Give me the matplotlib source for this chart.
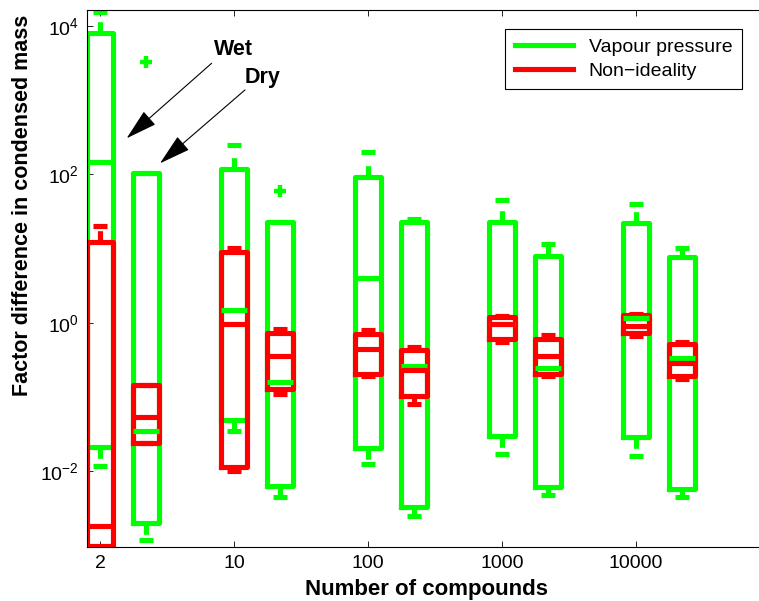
import numpy as np
import matplotlib
matplotlib.use('Agg')
import matplotlib.pyplot as plt

plt.rcParams['font.family'] = ['Liberation Sans', 'DejaVu Sans']
plt.rcParams['mathtext.fontset'] = 'custom'
plt.rcParams['mathtext.rm'] = 'Liberation Sans'
plt.rcParams['mathtext.it'] = 'Liberation Sans'

# categories on the x axis
groups = ['2', '10', '100', '1000', '10000']

# log10 of the box statistics
# vapour pressure, wet
vp_wet_lo = [-1.92, -1.46, -1.90, -1.76, -1.79]
vp_wet_q1 = [-1.67, -1.31, -1.69, -1.52, -1.54]
vp_wet_med = [2.17, 0.18, 0.61, -0.01, 0.06]
vp_wet_q3 = [3.90, 2.07, 1.96, 1.36, 1.34]
vp_wet_hi = [4.19, 2.40, 2.30, 1.66, 1.60]
vp_wet_fliers = [[], [], [], [], []]

# vapour pressure, dry
vp_dry_lo = [-2.92, -2.35, -2.60, -2.32, -2.35]
vp_dry_q1 = [-2.70, -2.19, -2.48, -2.21, -2.23]
vp_dry_med = [-1.46, -0.79, -0.58, -0.61, -0.47]
vp_dry_q3 = [2.02, 1.36, 1.36, 0.90, 0.89]
vp_dry_hi = [2.02, 1.36, 1.40, 1.06, 1.01]
vp_dry_fliers = [[3.52], [1.78], [], [], []]

# non-ideality, wet
ni_wet_lo = [-3.30, -2.00, -0.72, -0.25, -0.18]
ni_wet_q1 = [-3.00, -1.94, -0.69, -0.21, -0.13]
ni_wet_med = [-2.74, -0.01, -0.35, -0.01, -0.04]
ni_wet_q3 = [1.09, 0.95, -0.15, 0.085, 0.11]
ni_wet_hi = [1.30, 1.01, -0.10, 0.10, 0.12]
ni_wet_fliers = [[], [], [], [], []]

# non-ideality, dry
ni_dry_lo = [-1.62, -0.96, -1.095, -0.72, -0.755]
ni_dry_q1 = [-1.62, -0.89, -0.99, -0.69, -0.72]
ni_dry_med = [-1.26, -0.45, -0.63, -0.44, -0.535]
ni_dry_q3 = [-0.835, -0.14, -0.37, -0.21, -0.28]
ni_dry_hi = [-0.835, -0.085, -0.33, -0.16, -0.25]
ni_dry_fliers = [[], [], [], [], []]

GREEN = (0, 1, 0)
RED = (1, 0, 0)
LW = 3.7
BOX_W = 0.2
DRY_SHIFT = 0.343


def make_stats(lo, q1, med, q3, hi, fliers):
    stats = []
    for i in range(len(lo)):
        stats.append({
            'whislo': 10 ** lo[i],
            'q1': 10 ** q1[i],
            'med': 10 ** med[i],
            'q3': 10 ** q3[i],
            'whishi': 10 ** hi[i],
            'fliers': [10 ** f for f in fliers[i]],
        })
    return stats


def draw_boxes(ax, stats, positions, color):
    ax.bxp(
        stats,
        positions=positions,
        widths=BOX_W,
        capwidths=0.1,
        manage_ticks=False,
        boxprops=dict(color=color, lw=LW, solid_joinstyle='round'),
        medianprops=dict(color=color, lw=LW, solid_capstyle='butt'),
        whiskerprops=dict(color=color, lw=LW, linestyle=(0, (2.2, 30))),
        capprops=dict(color=color, lw=LW, solid_capstyle='butt'),
        flierprops=dict(marker='+', markeredgecolor=color, markersize=8,
                        markeredgewidth=3.2, linestyle='none'),
    )


fig = plt.figure(figsize=(7.59, 6.01), dpi=100)
ax = fig.add_axes([0.1146, 0.0899, 0.8946, 0.8935])
ax.set_yscale('log')

x = np.arange(1, len(groups) + 1)
x_dry = x + DRY_SHIFT

draw_boxes(ax, make_stats(vp_wet_lo, vp_wet_q1, vp_wet_med, vp_wet_q3,
                          vp_wet_hi, vp_wet_fliers), x, GREEN)
draw_boxes(ax, make_stats(vp_dry_lo, vp_dry_q1, vp_dry_med, vp_dry_q3,
                          vp_dry_hi, vp_dry_fliers), x_dry, GREEN)
draw_boxes(ax, make_stats(ni_wet_lo, ni_wet_q1, ni_wet_med, ni_wet_q3,
                          ni_wet_hi, ni_wet_fliers), x, RED)
draw_boxes(ax, make_stats(ni_dry_lo, ni_dry_q1, ni_dry_med, ni_dry_q3,
                          ni_dry_hi, ni_dry_fliers), x_dry, RED)

ax.set_xlim(0.903, 5.97)
ax.set_ylim(10 ** -3.017, 10 ** 4.215)
ax.set_xticks(x)
ax.set_xticklabels(groups)
ax.set_yticks([1e-2, 1e0, 1e2, 1e4])
ax.minorticks_off()
ax.tick_params(direction='in', top=True, right=True, length=4, width=0.6,
               labelsize=14, pad=6)
for s in ax.spines.values():
    s.set_linewidth(0.8)

ax.set_xlabel('Number of compounds', fontsize=16, fontweight='bold')
ax.xaxis.set_label_coords(0.5, -0.06)
ax.set_ylabel('Factor difference in condensed mass', fontsize=15.5,
              fontweight='bold')
ax.yaxis.set_label_coords(-0.0795, 0.637)

# legend
ax.plot([], [], color=GREEN, lw=LW, label='Vapour pressure')
ax.plot([], [], color=RED, lw=LW, label='Non\u2212ideality')
leg = ax.legend(loc='upper right', bbox_to_anchor=(0.965, 0.965),
                borderaxespad=0, fontsize=14, handlelength=3, fancybox=False,
                framealpha=1, edgecolor='black', borderpad=0.5,
                labelspacing=0.3)
leg.get_frame().set_linewidth(0.8)

# Wet / Dry arrows
arrow = dict(arrowstyle='-|>,head_length=1.0,head_width=0.28', color='black',
             lw=0.8, mutation_scale=20, shrinkA=0, shrinkB=0)
ax.annotate('', xy=(1.199, 10 ** 2.487), xytext=(1.833, 10 ** 3.497),
            arrowprops=arrow)
ax.annotate('', xy=(1.448, 10 ** 2.15), xytext=(2.082, 10 ** 3.138),
            arrowprops=arrow)
ax.text(1.993, 10 ** 3.676, 'Wet', fontsize=15.5, fontweight='bold',
        ha='center', va='center')
ax.text(2.216, 10 ** 3.30, 'Dry', fontsize=15.5, fontweight='bold',
        ha='center', va='center')

fig.savefig('out.png', dpi=100)
